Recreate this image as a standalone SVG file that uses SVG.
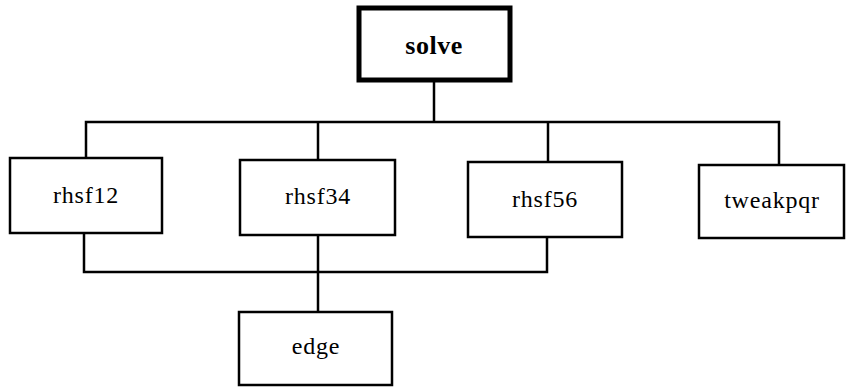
<svg xmlns="http://www.w3.org/2000/svg" width="847" height="388" viewBox="0 0 847 388">
  <style>
    .box { fill: #fff; stroke: #000; stroke-width: 2.5; }
    .root { fill: #fff; stroke: #000; stroke-width: 5; }
    .wire { fill: none; stroke: #000; stroke-width: 2.5; }
    text { font-family: "Liberation Serif", "Times New Roman", serif; font-size: 24px; letter-spacing: 0.8px; text-anchor: middle; fill: #000; }
    .bold { font-weight: bold; font-size: 26px; letter-spacing: 0.5px; }
  </style>
  <rect width="847" height="388" fill="#fff"/>
  <g id="connectors">
    <polyline class="wire" points="434,80 434,122"/>
    <polyline class="wire" points="86,158 86,122 779,122 779,165"/>
    <polyline class="wire" points="318,122 318,160"/>
    <polyline class="wire" points="548,122 548,162"/>
    <polyline class="wire" points="84,233 84,272 547,272 547,237"/>
    <polyline class="wire" points="318,235 318,312"/>
  </g>
  <g id="solve">
    <rect class="root" x="359" y="8" width="151" height="72"/>
    <text class="bold" x="434" y="54">solve</text>
  </g>
  <g id="rhsf12">
    <rect class="box" x="10" y="158" width="152" height="75"/>
    <text x="86" y="203">rhsf12</text>
  </g>
  <g id="rhsf34">
    <rect class="box" x="240" y="160" width="155" height="75"/>
    <text x="318" y="204">rhsf34</text>
  </g>
  <g id="rhsf56">
    <rect class="box" x="468" y="162" width="154" height="75"/>
    <text x="545" y="207">rhsf56</text>
  </g>
  <g id="tweakpqr">
    <rect class="box" x="699" y="165" width="145" height="73"/>
    <text x="772" y="208">tweakpqr</text>
  </g>
  <g id="edge">
    <rect class="box" x="239" y="312" width="153" height="73"/>
    <text x="316" y="354">edge</text>
  </g>
</svg>
